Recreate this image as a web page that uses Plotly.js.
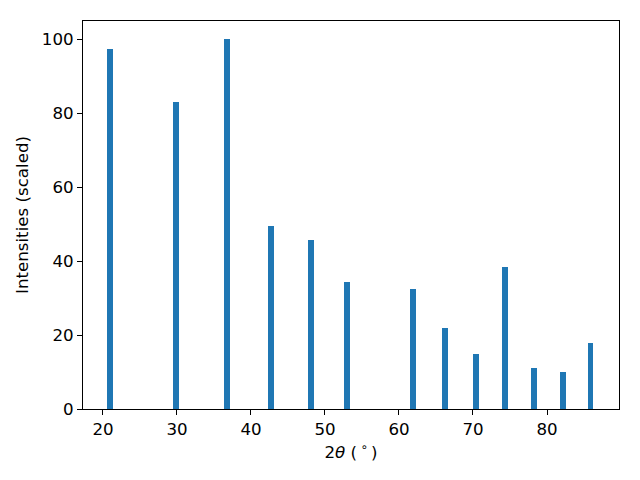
<!DOCTYPE html>
<html>
<head>
<meta charset="utf-8">
<script src="https://cdn.plot.ly/plotly-3.0.1.min.js"></script>
<style>html,body{margin:0;padding:0;background:#fff;}#chart{width:640px;height:480px;}</style>
</head>
<body>
<div id="chart"></div>
<script>
const twoTheta = [20.91, 29.82, 36.72, 42.66, 48.07, 52.93, 61.95, 66.18, 70.36, 74.28, 78.2, 82.1, 85.88];
const intensities = [97.4, 83.0, 100.0, 49.4, 45.8, 34.4, 32.5, 21.9, 14.9, 38.5, 11.1, 10.0, 17.9];
const xTicks = [20, 30, 40, 50, 60, 70, 80];
const yTicks = [0, 20, 40, 60, 80, 100];

const font = {family: 'DejaVu Sans', size: 16.67, color: '#000'};
const axisCommon = {
  showgrid: false, zeroline: false, showline: true, linecolor: '#000', linewidth: 1,
  mirror: true, ticks: 'outside', ticklen: 5, tickwidth: 1, tickcolor: '#000',
  tickfont: font
};

Plotly.newPlot('chart', [{
  type: 'bar',
  x: twoTheta,
  y: intensities,
  width: twoTheta.map(() => 0.8),
  marker: {color: '#1f77b4', line: {width: 0}}
}], {
  width: 640, height: 480,
  margin: {l: 83, r: 21, t: 21, b: 71},
  paper_bgcolor: '#fff', plot_bgcolor: '#fff',
  font: font,
  showlegend: false,
  bargap: 0,
  xaxis: Object.assign({}, axisCommon, {
    range: [17.3, 89.73], tickvals: xTicks, ticktext: xTicks.map(String), automargin: false,
    title: {text: '2<i>θ</i> (\u2009<sup>∘</sup>\u2009)', font: font, standoff: 8}
  }),
  yaxis: Object.assign({}, axisCommon, {
    range: [0, 105], tickvals: yTicks, ticktext: yTicks.map(String), automargin: false,
    title: {text: 'Intensities (scaled)', font: font, standoff: 9}
  })
}, {displayModeBar: false, staticPlot: true});
</script>
</body>
</html>
